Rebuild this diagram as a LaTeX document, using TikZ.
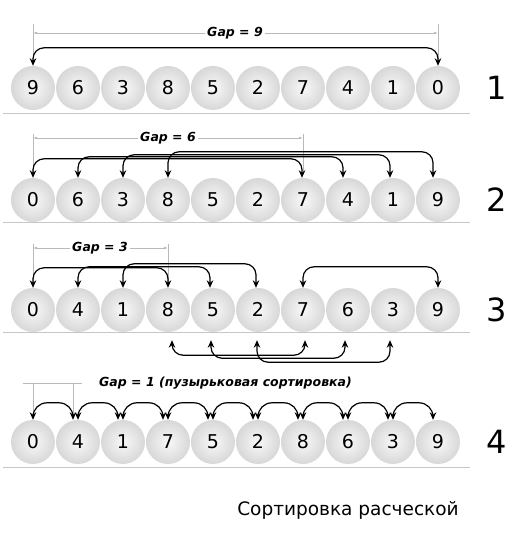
\documentclass[tikz,border=0pt]{standalone}
\usepackage{fontspec}
\setmainfont{DejaVu Sans}
\usetikzlibrary{arrows.meta}

\begin{document}
\begin{tikzpicture}[x=1pt, y=1pt,
    ball/.style={circle, minimum size=44pt, inner sep=0pt, text height=14pt, text depth=0pt, shading=radial, inner color=gray!5, outer color=gray!31, font=\fontsize{19}{22}\selectfont},
    xch/.style={{Stealth[length=7.5pt,width=6.5pt]}-{Stealth[length=7.5pt,width=6.5pt]}, line width=1.2pt, rounded corners=11pt},
    dim/.style={gray!55, line width=0.6pt},
    dimtip/.style={dim, {Latex[length=4pt,width=2.5pt]}-},
    gap/.style={inner sep=2pt, font=\fontsize{12.5}{14}\selectfont\bfseries\itshape},
    row/.style={font=\fontsize{32}{36}\selectfont},
    base/.style={gray!45, line width=1pt}]
    \useasboundingbox (0,0) rectangle (518,550);

    \foreach \y in {436,327,217,82}
        \draw[base] (3,\y) -- (470,\y);

    \foreach \d [count=\i from 0] in {9,6,3,8,5,2,7,4,1,0}
        \node[ball] (r1b\i) at ({33+45*\i},462) {\d};
    \foreach \d [count=\i from 0] in {0,6,3,8,5,2,7,4,1,9}
        \node[ball] (r2b\i) at ({33+45*\i},350) {\d};
    \foreach \d [count=\i from 0] in {0,4,1,8,5,2,7,6,3,9}
        \node[ball] (r3b\i) at ({33+45*\i},240) {\d};
    \foreach \d [count=\i from 0] in {0,4,1,7,5,2,8,6,3,9}
        \node[ball] (r4b\i) at ({33+45*\i},108) {\d};

    \foreach \r/\y in {1/462,2/350,3/240,4/108}
        \node[row] (n\r) at (497,\y) {\r};

    \node[gap] (g1) at (235,517) {Gap = 9};
    \node[gap] (g2) at (168,412) {Gap = 6};
    \node[gap] (g3) at (100,302) {Gap = 3};
    \node[gap, anchor=west] (g4) at (97,167) {Gap = 1 (пузырьковая сортировка)};

    \draw[dimtip] (r1b0 |- g1) -- (g1.west);
    \draw[dimtip] (r1b9 |- g1) -- (g1.east);
    \draw[dim] (r1b0 |- g1) ++(0,9) -- ([yshift=4pt]r1b0.north);
    \draw[dim] (r1b9 |- g1) ++(0,9) -- ([yshift=4pt]r1b9.north);
    \draw[xch] (r1b0.north) -- ++(0,18) -| (r1b9.north);

    \draw[dimtip] (r2b0 |- g2) -- (g2.west);
    \draw[dimtip] (r2b6 |- g2) -- (g2.east);
    \draw[dim] (r2b0 |- g2) ++(0,4) -- ([yshift=5pt]r2b0.north);
    \draw[dim] (r2b6 |- g2) ++(0,4) -- ([yshift=5pt]r2b6.north);
    \draw[xch] (r2b3.north) -- ++(0,26) -| ([xshift=-5pt]r2b9.north);
    \draw[xch] (r2b2.north) -- ++(0,23) -| ([xshift=-3pt]r2b8.north);
    \draw[xch] (r2b1.north) -- ++(0,21) -| ([xshift=-5pt]r2b7.north);
    \draw[xch] (r2b0.north) -- ++(0,19) -| ([xshift=-1pt]r2b6.north);

    \draw[dimtip] (r3b0 |- g3) -- (g3.west);
    \draw[dimtip] (r3b3 |- g3) -- (g3.east);
    \draw[dim] (r3b0 |- g3) ++(0,4) -- ([yshift=5pt]r3b0.north);
    \draw[dim] (r3b3 |- g3) ++(0,4) -- ([yshift=5pt]r3b3.north);
    \draw[xch] (r3b2.north) -- ++(0,24) -| ([xshift=-2pt]r3b5.north);
    \draw[xch] (r3b1.north) -- ++(0,21) -| ([xshift=-3pt]r3b4.north);
    \draw[xch] (r3b0.north) -- ++(0,20) -| (r3b3.north);
    \draw[xch] (r3b6.north) -- ++(0,21) -| (r3b9.north);
    \draw[xch] ([xshift=4pt,yshift=-8pt]r3b3.south) -- ++(0,-15) -| ([xshift=2pt,yshift=-8pt]r3b6.south);
    \draw[xch] ([xshift=-2pt,yshift=-8pt]r3b4.south) -- ++(0,-18) -| ([xshift=-3pt,yshift=-8pt]r3b7.south);
    \draw[xch] ([xshift=-1pt,yshift=-8pt]r3b5.south) -- ++(0,-22) -| ([xshift=-3pt,yshift=-8pt]r3b8.south);

    \draw[dim] (r4b0 |- g4) ++(-10,0) -- ++(59,0);
    \draw[dim] (r4b0 |- g4) -- ([yshift=5pt]r4b0.north);
    \draw[dim] ([xshift=-5pt]r4b1.north |- g4) -- ([xshift=-5pt,yshift=5pt]r4b1.north);
    \foreach \i [evaluate=\i as \j using int(\i+1)] in {0,...,8}
        \draw[xch, rounded corners=14pt] (r4b\i.north) -- ++(0,17) -| ([xshift=-5pt]r4b\j.north);

    \node[font=\fontsize{18.5}{22}\selectfont] (cap) at (348,40) {Сортировка расческой};
\end{tikzpicture}
\end{document}
